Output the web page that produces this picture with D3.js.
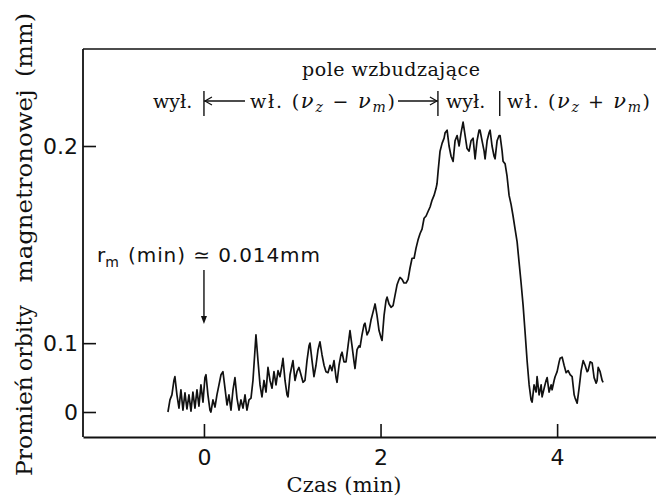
<!DOCTYPE html>
<html><head><meta charset="utf-8">
<script src="https://cdn.jsdelivr.net/npm/d3@7"></script>
<style>body{margin:0;background:#fff}svg{display:block}</style>
</head><body><svg id="c" width="656" height="499"></svg>
<script>
// time in minutes
const time = [-0.408,-0.385,-0.363,-0.340,-0.329,-0.306,-0.283,-0.261,-0.238,-0.215,-0.193,-0.170,-0.147,-0.125,-0.102,-0.079,-0.057,-0.034,-0.011,0.011,0.023,0.045,0.068,0.079,0.102,0.125,0.147,0.170,0.193,0.215,0.238,0.261,0.283,0.306,0.329,0.351,0.374,0.397,0.419,0.442,0.465,0.487,0.510,0.533,0.555,0.578,0.589,0.612,0.635,0.657,0.680,0.703,0.725,0.748,0.771,0.793,0.816,0.839,0.861,0.884,0.895,0.918,0.941,0.952,0.975,0.997,1.008,1.031,1.054,1.076,1.099,1.122,1.144,1.167,1.190,1.201,1.224,1.246,1.269,1.292,1.314,1.337,1.360,1.382,1.405,1.428,1.450,1.473,1.496,1.507,1.530,1.552,1.564,1.586,1.609,1.632,1.654,1.677,1.700,1.711,1.734,1.756,1.768,1.790,1.813,1.824,1.847,1.870,1.892,1.915,1.938,1.960,1.983,2.006,2.017,2.040,2.062,2.074,2.096,2.119,2.142,2.164,2.187,2.210,2.221,2.244,2.266,2.289,2.312,2.334,2.357,2.380,2.402,2.425,2.448,2.470,2.493,2.516,2.538,2.561,2.584,2.606,2.629,2.640,2.652,2.674,2.697,2.720,2.731,2.754,2.776,2.799,2.822,2.844,2.867,2.890,2.912,2.935,2.958,2.980,3.003,3.025,3.048,3.071,3.093,3.116,3.127,3.150,3.173,3.184,3.207,3.229,3.241,3.263,3.286,3.297,3.320,3.343,3.354,3.377,3.388,3.411,3.433,3.456,3.479,3.501,3.524,3.547,3.569,3.592,3.615,3.637,3.660,3.683,3.705,3.717,3.739,3.762,3.773,3.796,3.819,3.830,3.853,3.875,3.887,3.909,3.932,3.943,3.966,3.977,4.000,4.023,4.034,4.057,4.079,4.102,4.125,4.147,4.170,4.193,4.204,4.227,4.249,4.272,4.295,4.317,4.340,4.351,4.374,4.397,4.419,4.442,4.453,4.465,4.487,4.510,4.521];
// magnetron orbit radius in mm
const radius = [0,.041,.049,.067,.071,.049,.023,.056,.016,.052,
.020,.049,.011,.053,.023,.056,.028,.062,.037,.070,
.073,.049,.016,0,.041,.026,.049,.062,.073,.076,
.058,.031,.049,.016,.056,.070,.044,.016,.041,.023,
.049,.016,.041,.044,.067,.095,.106,.086,.062,.046,
.067,.053,.080,.067,.058,.076,.062,.077,.071,.082,
.088,.067,.049,.046,.073,.082,.086,.067,.076,.080,
.073,.065,.067,.086,.098,.100,.086,.071,.082,.095,
.101,.091,.082,.076,.075,.082,.077,.086,.070,.065,
.082,.091,.093,.085,.085,.098,.109,.098,.085,.079,
.095,.098,.097,.106,.113,.114,.106,.109,.116,.121,
.126,.119,.109,.104,.102,.119,.128,.130,.126,.124,
.125,.131,.137,.140,.141,.140,.138,.138,.140,.146,
.151,.151,.156,.160,.163,.165,.170,.171,.173,.175,
.178,.180,.183,.185,.190,.198,.201,.203,.205,.206,
.200,.196,.194,.202,.204,.200,.205,.209,.204,.199,
.198,.202,.203,.195,.202,.206,.206,.202,.198,.195,
.202,.205,.206,.200,.196,.195,.202,.204,.204,.198,
.194,.193,.188,.180,.176,.171,.165,.159,.149,.138,
.125,.108,.086,.062,.041,.037,.062,.053,.071,.049,
.062,.046,.058,.067,.070,.053,.062,.056,.067,.071,
.076,.085,.088,.089,.082,.075,.077,.073,.071,.049,
.044,.035,.058,.077,.086,.082,.076,.077,.085,.084,
.070,.064,.067,.080,.076,.067,.065];

const xTickValues = [0, 2, 4];
const xTickLabels = ["0", "2", "4"];
const yTickValues = [0, 0.1, 0.2];
const yTickLabels = ["0", "0.1", "0.2"];
const switchTimes = [0, 2.65, 3.35];   // field switching instants (min)
const markerTime = 0;                   // r_m(min) arrow

const svg = d3.select("#c");
const serif = "'DejaVu Serif', serif";
const sans = "'DejaVu Sans', sans-serif";

const x = d3.scaleLinear().domain([-1.37, 5.12]).range([83, 656]);
const y = d3.scalePow().exponent(1.95).domain([0, 0.2]).range([412, 146]);
const plotTop = 49, plotBottom = 437;

// frame lines
svg.append("line").attr("x1", x.range()[0]).attr("x2", x.range()[0]).attr("y1", plotTop).attr("y2", plotBottom)
  .attr("stroke", "#111").attr("stroke-width", 1.8);
svg.append("line").attr("x1", x.range()[0]).attr("x2", x.range()[1]).attr("y1", plotTop).attr("y2", plotTop)
  .attr("stroke", "#111").attr("stroke-width", 1.6);

// x axis
const gx = svg.append("g").attr("transform", `translate(0,${plotBottom})`)
  .call(d3.axisBottom(x).tickValues(xTickValues).tickFormat((d, i) => xTickLabels[i])
    .tickSize(-13).tickSizeOuter(0).tickPadding(12));
gx.select(".domain").attr("stroke", "#111").attr("stroke-width", 1.8);
gx.selectAll(".tick line").attr("stroke", "#111").attr("stroke-width", 1.6);
gx.selectAll(".tick text").attr("font-family", sans).attr("font-size", 22).attr("fill", "#111");

// y axis
const gy = svg.append("g").attr("transform", `translate(${x.range()[0]},0)`)
  .call(d3.axisLeft(y).tickValues(yTickValues).tickFormat((d, i) => yTickLabels[i])
    .tickSize(-13).tickSizeOuter(0).tickPadding(5));
gy.select(".domain").remove();
gy.selectAll(".tick line").attr("stroke", "#111").attr("stroke-width", 1.6);
gy.selectAll(".tick text").attr("font-family", sans).attr("font-size", 22).attr("fill", "#111");

// trace
const data = time.map((t, i) => ({ t, r: radius[i] })).filter(d => d.r !== undefined);
svg.append("path").datum(data)
  .attr("fill", "none").attr("stroke", "#111").attr("stroke-width", 1.7).attr("stroke-linejoin", "round")
  .attr("d", d3.line().x(d => x(d.t)).y(d => y(d.r)));

// axis titles
svg.append("text").attr("x", 344).attr("y", 492).attr("text-anchor", "middle")
  .attr("font-family", serif).attr("font-size", 21).attr("fill", "#111").attr("textLength", 115)
  .text("Czas (min)");

const yWords = [
  { w: "Promień", c: 426, len: 100 },
  { w: "orbity", c: 338, len: 66 },
  { w: "magnetronowej", c: 186, len: 193 },
  { w: "(mm)", c: 45, len: 64 }
];
yWords.forEach(o => {
  svg.append("text").attr("x", 32).attr("y", o.c).attr("transform", `rotate(-90,32,${o.c})`)
    .attr("text-anchor", "middle").attr("font-family", serif).attr("font-size", 23)
    .attr("fill", "#111").attr("textLength", o.len).attr("lengthAdjust", "spacingAndGlyphs").text(o.w);
});

// top annotations
svg.append("text").attr("x", 391).attr("y", 76).attr("text-anchor", "middle")
  .attr("font-family", serif).attr("font-size", 19).attr("fill", "#111").attr("textLength", 178)
  .text("pole wzbudzające");

const lineY = 108, axisY = 101;
function label(xpos, parts, len) {
  const t = svg.append("text").attr("x", xpos).attr("y", lineY).attr("font-family", serif)
    .attr("font-size", 19).attr("fill", "#111");
  parts.forEach(p => {
    const s = t.append("tspan").text(p.s);
    if (p.it) s.attr("font-style", "italic").attr("font-size", 21);
    if (p.sub) s.attr("font-size", 14).attr("dy", 4);
    if (p.up) s.attr("dy", -4);
  });
  if (len) t.attr("textLength", len).attr("lengthAdjust", "spacing");
  return t;
}
label(153, [{ s: "wył." }]);
label(250, [{ s: "wł. (" }, { s: "ν", it: true }, { s: "z", it: true, sub: true }, { s: " − ", up: true },
  { s: "ν", it: true }, { s: "m", it: true, sub: true }, { s: ")", up: true }], 145);
label(446, [{ s: "wył." }]);
label(507, [{ s: "wł. (" }, { s: "ν", it: true }, { s: "z", it: true, sub: true }, { s: " + ", up: true },
  { s: "ν", it: true }, { s: "m", it: true, sub: true }, { s: ")", up: true }], 143);

// switching bars
switchTimes.forEach(t => {
  svg.append("line").attr("x1", x(t)).attr("x2", x(t)).attr("y1", 91).attr("y2", 116)
    .attr("stroke", "#111").attr("stroke-width", 1.4);
});
// arrows
const a0 = x(switchTimes[0]), a1 = x(switchTimes[1]);
svg.append("line").attr("x1", a0).attr("x2", 245).attr("y1", axisY).attr("y2", axisY).attr("stroke", "#111").attr("stroke-width", 1.3);
svg.append("path").attr("d", `M${a0 + 1},${axisY} l7,-4 M${a0 + 1},${axisY} l7,4`).attr("stroke", "#111").attr("fill", "none").attr("stroke-width", 1.3);
svg.append("line").attr("x1", 398).attr("x2", a1).attr("y1", axisY).attr("y2", axisY).attr("stroke", "#111").attr("stroke-width", 1.3);
svg.append("path").attr("d", `M${a1 - 1},${axisY} l-7,-4 M${a1 - 1},${axisY} l-7,4`).attr("stroke", "#111").attr("fill", "none").attr("stroke-width", 1.3);

// r_m(min) annotation
const rt = svg.append("text").attr("x", 97).attr("y", 262).attr("font-family", sans).attr("font-size", 20).attr("fill", "#111");
rt.append("tspan").text("r");
rt.append("tspan").attr("font-size", 14).attr("dy", 5).text("m");
svg.append("text").attr("x", 128).attr("y", 262).attr("font-family", sans).attr("font-size", 20).attr("fill", "#111")
  .attr("textLength", 192).text("(min) ≃ 0.014mm");
const mx = x(markerTime);
svg.append("line").attr("x1", mx).attr("x2", mx).attr("y1", 270).attr("y2", 318).attr("stroke", "#111").attr("stroke-width", 1.4);
svg.append("path").attr("d", `M${mx - 3},316 L${mx + 3},316 L${mx},324 Z`).attr("fill", "#111");
</script>
</body></html>
